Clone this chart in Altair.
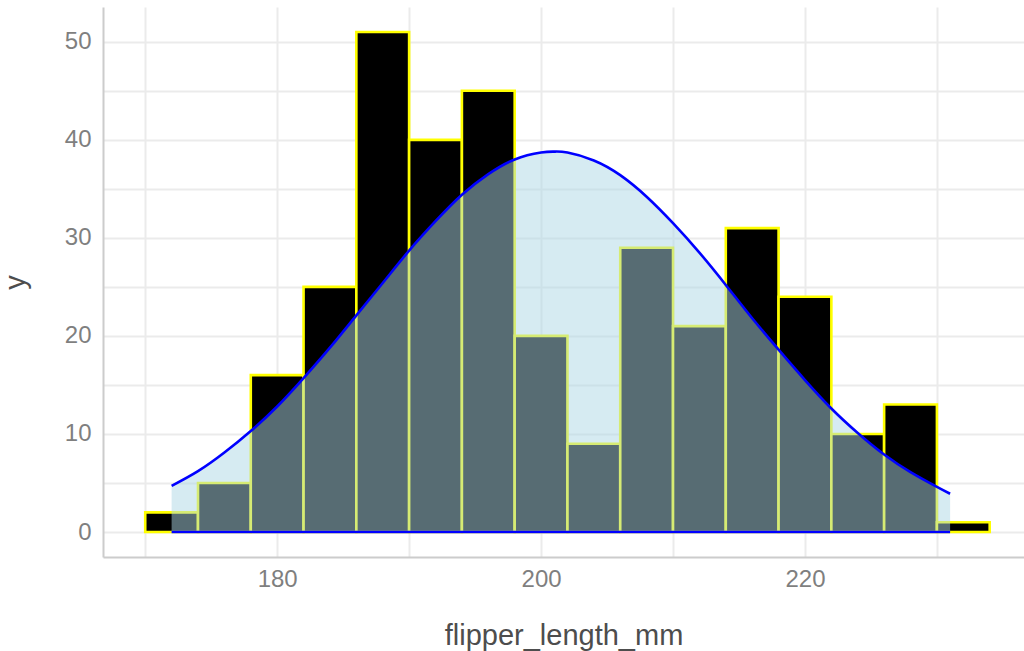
import altair as alt
import pandas as pd

# Histogram bins (width 4) and counts
bin_start = [170, 174, 178, 182, 186, 190, 194, 198, 202, 206, 210, 214, 218, 222, 226, 230]
counts = [2, 5, 16, 25, 51, 40, 45, 20, 9, 29, 21, 31, 24, 10, 13, 1]
bin_width = 4

# Density curve (scaled to counts)
curve_x = [172, 174, 176, 178, 180, 182, 184, 186, 188, 190, 192, 194, 196, 198, 200, 201,
           202, 204, 206, 208, 210, 212, 214, 216, 218, 220, 222, 224, 226, 228, 230, 231]
curve_y = [4.7, 6.2, 8.1, 10.3, 12.8, 15.7, 18.8, 22.1, 25.4, 28.7, 31.7, 34.4, 36.5, 38.0, 38.7, 38.8,
           38.7, 37.9, 36.4, 34.2, 31.5, 28.5, 25.2, 21.8, 18.6, 15.5, 12.6, 10.1, 7.9, 6.1, 4.6, 3.9]

bars = pd.DataFrame({
    "x0": bin_start,
    "x1": [b + bin_width for b in bin_start],
    "count": counts,
})
curve = pd.DataFrame({"x": curve_x, "y": curve_y})
base_line = pd.DataFrame({"x0": [curve_x[0]], "x1": [curve_x[-1]], "y": [0]})

x_scale = alt.Scale(domain=[166.8, 236.6], nice=False, zero=False)
y_scale = alt.Scale(domain=[-2.55, 53.55], nice=False, zero=False)

x_axis = alt.Axis(
    values=[170, 180, 190, 200, 210, 220, 230],
    labelExpr="datum.value % 20 == 0 ? datum.label : ''",
    title="flipper_length_mm",
    titleFontSize=29, titleFontWeight="normal", titleColor="#4d4d4d",
    titlePadding=30,
    labelFontSize=24, labelColor="#7f7f7f", labelPadding=10,
    ticks=False, domain=True, domainColor="#cccccc", domainWidth=2,
    grid=True, gridColor="#ebebeb", gridWidth=2,
)
y_axis = alt.Axis(
    values=[0, 5, 10, 15, 20, 25, 30, 35, 40, 45, 50],
    labelExpr="datum.value % 10 == 0 ? datum.label : ''",
    title="y",
    titleFontSize=29, titleFontWeight="normal", titleColor="#4d4d4d",
    titlePadding=34,
    labelFontSize=24, labelColor="#7f7f7f", labelPadding=12,
    ticks=False, domain=True, domainColor="#cccccc", domainWidth=2,
    grid=True, gridColor="#ebebeb", gridWidth=2,
)

hist = alt.Chart(bars).mark_rect(
    color="black", stroke="#ffff00", strokeWidth=2.6
).encode(
    x=alt.X("x0:Q", scale=x_scale, axis=x_axis),
    x2="x1:Q",
    y=alt.Y("count:Q", scale=y_scale, axis=y_axis),
    y2=alt.datum(0),
)

area = alt.Chart(curve).mark_area(
    color="#add8e6", opacity=0.5, interpolate="natural"
).encode(
    x=alt.X("x:Q", scale=x_scale),
    y=alt.Y("y:Q", scale=y_scale),
    y2=alt.datum(0),
)

line = alt.Chart(curve).mark_line(
    color="#0000ff", strokeWidth=2.6, interpolate="natural"
).encode(
    x=alt.X("x:Q", scale=x_scale),
    y=alt.Y("y:Q", scale=y_scale),
)

bottom = alt.Chart(base_line).mark_rule(color="#0000ff", strokeWidth=2.6).encode(
    x=alt.X("x0:Q", scale=x_scale),
    x2="x1:Q",
    y=alt.Y("y:Q", scale=y_scale),
)

chart = alt.layer(hist, area, line, bottom).properties(
    width=921,
    height=550,
    autosize=alt.AutoSizeParams(type="none"),
    padding={"left": 103, "top": 7, "right": 0, "bottom": 94},
).configure_view(strokeWidth=0).configure_axis(
    labelFont="Liberation Sans", titleFont="Liberation Sans"
)

chart.save("out.html", embed_options={"renderer": "svg", "actions": False})
